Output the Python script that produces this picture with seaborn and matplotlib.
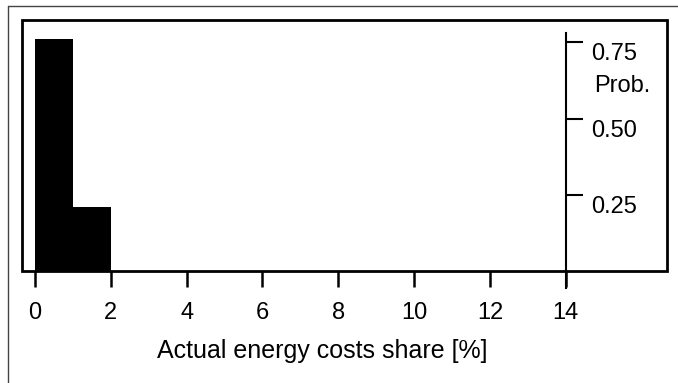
import numpy as np
import matplotlib
matplotlib.use("Agg")
import matplotlib.pyplot as plt
import matplotlib.transforms as mtransforms
import seaborn as sns
from matplotlib.patches import Rectangle
from matplotlib.lines import Line2D

# histogram data
bin_edges = [0, 1, 2]
bin_centers = [0.5, 1.5]
probs = [0.76, 0.21]
x_ticks = [0, 2, 4, 6, 8, 10, 12, 14]
y_ticks = [0.25, 0.50, 0.75]
y_tick_labels = ["0.25", "0.50", "0.75"]

sns.set_theme(style="white")
plt.rcParams['font.family'] = ['Liberation Sans', 'DejaVu Sans']

fig = plt.figure(figsize=(6.78, 3.83), dpi=100)
ax = fig.add_axes([22 / 678, 1 - 271 / 383, 645 / 678, 251 / 383])

sns.histplot(x=bin_centers, weights=probs, bins=bin_edges, color="black",
             edgecolor="black", alpha=1, linewidth=0, ax=ax)

ax.set_xlim(-0.34, 16.67)
ax.set_ylim(0, 0.823)

# frame around the plot area
for s in ["top", "bottom", "left"]:
    ax.spines[s].set_visible(False)
ax.add_patch(Rectangle((0, 0), 1, 1, transform=ax.transAxes, fill=False,
                       edgecolor="black", linewidth=2, clip_on=False, zorder=5))

# probability axis sits at x = 14
ax.spines["right"].set_position(("data", 14))
ax.spines["right"].set_bounds(-0.056, 0.78)
ax.spines["right"].set_color("black")
ax.spines["right"].set_linewidth(1.5)
ax.yaxis.tick_right()
ax.set_yticks(y_ticks)
ax.set_yticklabels(y_tick_labels)
ax.tick_params(axis="y", direction="out", length=12, width=1.5, pad=6,
               labelsize=17, colors="black", right=True)
# labels sit a bit below their ticks in the original
shift = mtransforms.ScaledTranslation(0, -9.5 / 100, fig.dpi_scale_trans)
for lab in ax.get_yticklabels():
    lab.set_transform(lab.get_transform() + shift)

ax.set_xticks(x_ticks)
ax.tick_params(axis="x", direction="out", length=11.5, width=1.8, pad=11,
               labelsize=17, colors="black", bottom=True)

ax.set_ylabel("")
ax.set_xlabel("Actual energy costs share [%]", fontsize=18, color="black")
ax.xaxis.set_label_coords(0.465, -0.32)
ax.xaxis.label.set_va("center")

ax.text(14.75, 0.606, "Prob.", fontsize=17, ha="left", va="center",
        color="black")

# thin outer border (top and left)
fig.add_artist(Line2D([8 / 678, 8 / 678], [0, 1 - 6 / 383],
                      transform=fig.transFigure, color="#444444", linewidth=1))
fig.add_artist(Line2D([8 / 678, 1], [1 - 6 / 383, 1 - 6 / 383],
                      transform=fig.transFigure, color="#444444", linewidth=1))

fig.savefig("out.png", dpi=100)
